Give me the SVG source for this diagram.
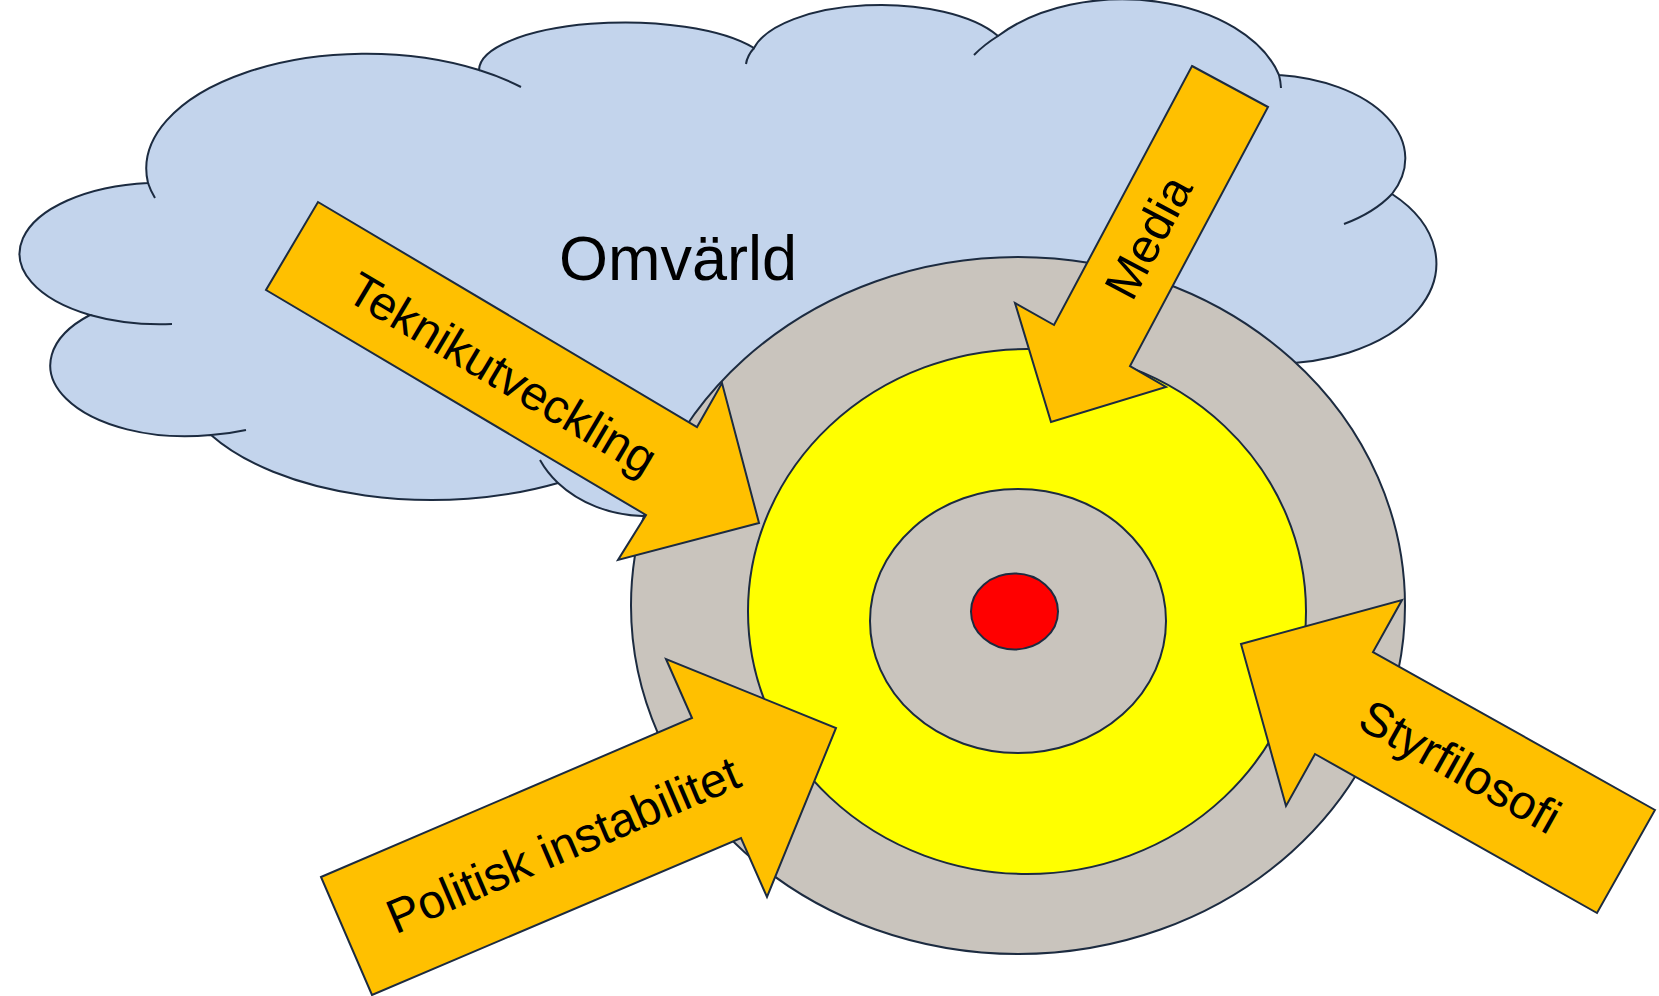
<svg xmlns="http://www.w3.org/2000/svg" width="1659" height="996" viewBox="0 0 1659 996">
<style>
.ln{stroke:#1C2B40;stroke-width:2;stroke-linejoin:miter}
.cloud{fill:#C3D4EC}
.tail{fill:none;stroke:#1C2B40;stroke-width:2}
.gray{fill:#C9C4BD}
.yel{fill:#FFFF00}
.red{fill:#FF0000}
.arrow{fill:#FFC000}
.lbl{font-family:"Liberation Sans",Arial,Helvetica,sans-serif;font-size:48px;fill:#000}
.big{font-family:"Liberation Sans",Arial,Helvetica,sans-serif;font-size:63px;fill:#000}
</style>
<rect width="1659" height="996" fill="#FFFFFF"/>
<g id="cloud-omvarld">
<path class="cloud ln" d="M148,183 A220 115 0 0 1 479,70 A146 48 0 0 1 754,48 A130 55 0 0 1 998,36 A162 102 0 0 1 1279,75 A142 84 0 0 1 1392,194 A159 100 0 0 1 1252,362 L1200,420 L900,500 L642,516 A118 97 0 0 1 558,483 A255 130 0 0 1 211,435 A135 71 0 0 1 90,315 A142 71 0 0 1 148,183 Z"/>
<path class="tail" d="M479,70 A220 115 0 0 1 521,87"/>
<path class="tail" d="M148,183 A220 115 0 0 0 155,198"/>
<path class="tail" d="M754,48 A130 55 0 0 0 746,64"/>
<path class="tail" d="M998,36 A162 102 0 0 0 974,55"/>
<path class="tail" d="M1279,75 A162 102 0 0 1 1281,88"/>
<path class="tail" d="M1392,194 A142 84 0 0 1 1344,224"/>
<path class="tail" d="M90,315 A142 71 0 0 0 172,324"/>
<path class="tail" d="M211,435 A135 71 0 0 0 246,430"/>
<path class="tail" d="M558,483 A118 97 0 0 1 540,460"/>
<text class="big" x="678" y="280" text-anchor="middle">Omvärld</text>
</g>
<g id="ring-outer"><ellipse class="gray ln" cx="1018" cy="605.5" rx="387" ry="348.5"/></g>
<g id="ring-middle"><ellipse class="yel ln" cx="1027" cy="611.5" rx="279" ry="262.5"/></g>
<g id="ring-inner"><ellipse class="gray ln" cx="1018" cy="621" rx="148" ry="132"/></g>
<g id="core"><ellipse class="red ln" cx="1014.5" cy="611.5" rx="43.5" ry="38"/></g>
<g id="connectors">
<g id="arrow-teknikutveckling">
<polygon class="arrow ln" points="318,202 697,427 722,383 759,523 618,560 646,515 266,290"/>
<text class="lbl" text-anchor="middle" transform="translate(494,388) rotate(30.7)">Teknikutveckling</text>
</g>
<g id="arrow-media">
<polygon class="arrow ln" points="1192,66 1268,107 1130,366 1166,387 1051,422 1015,303 1054,325"/>
<text class="lbl" text-anchor="middle" transform="translate(1163,245) rotate(-62)">Media</text>
</g>
<g id="arrow-politisk">
<polygon class="arrow ln" points="321,877 692,718 666,659 836,728 767,897 741,838 372,995"/>
<text class="lbl" text-anchor="middle" transform="translate(569.5,860) rotate(-23.2)">Politisk instabilitet</text>
</g>
<g id="arrow-styrfilosofi">
<polygon class="arrow ln" points="1655,810 1373,652 1402,600 1241,644 1286,806 1315,754 1597,913"/>
<text class="lbl" text-anchor="middle" transform="translate(1452,781) rotate(29.3)">Styrfilosofi</text>
</g>
</g>
</svg>
